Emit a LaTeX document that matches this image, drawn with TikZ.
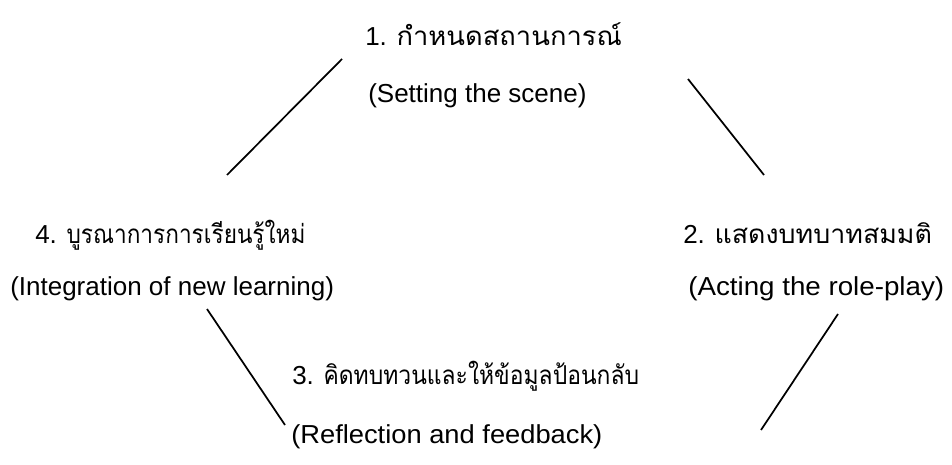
\documentclass[tikz,border=0pt]{standalone}
\usepackage{fontspec}
\usepackage{graphicx}
\setmainfont{Liberation Sans}
\newfontfamily\thaifont[Script=Thai]{Loma}
\newcommand{\thx}[2]{\scalebox{#1}[1]{\thaifont #2}}
\tikzset{
  thai/.style={anchor=base west, inner sep=0pt, font=\fontsize{19.5}{23}\selectfont},
  eng/.style={anchor=base west, inner sep=0pt, font=\fontsize{19.5}{23}\selectfont},
  link/.style={draw=black, line width=1.3pt}
}
\begin{document}
\begin{tikzpicture}[x=0.75pt,y=-0.75pt]
\useasboundingbox (0,0) rectangle (952,464);
% step 1
\node[thai] (t1) at (365,45) {1. \thx{1.05}{กำหนดสถานการณ์}};
\node[eng]  (e1) at (368,102) {(Setting the scene)};
% step 2
\node[thai] (t2) at (683,243) {2. \thx{1.03}{แสดงบทบาทสมมติ}};
\node[eng]  (e2) at (688,295) {\scalebox{1.067}[1]{(Acting the role-play)}};
% step 3
\node[thai] (t3) at (292,384) {3. \thx{0.88}{คิดทบทวนและให้ข้อมูลป้อนกลับ}};
\node[eng]  (e3) at (291,443) {\scalebox{1.05}[1]{(Reflection and feedback)}};
% step 4
\node[thai] (t4) at (35,243) {4. \thx{0.87}{บูรณาการการเรียนรู้ใหม่}};
\node[eng]  (e4) at (10,295) {(Integration of new learning)};
% line end points
\coordinate (a1) at (227,175); \coordinate (a2) at (342,59);
\coordinate (b1) at (688,79);  \coordinate (b2) at (764,175);
\coordinate (c1) at (838,314); \coordinate (c2) at (761,430);
\coordinate (d1) at (207,309); \coordinate (d2) at (285,425);
\draw[link] (a1) -- (a2);
\draw[link] (b1) -- (b2);
\draw[link] (c1) -- (c2);
\draw[link] (d1) -- (d2);
\end{tikzpicture}
\end{document}
